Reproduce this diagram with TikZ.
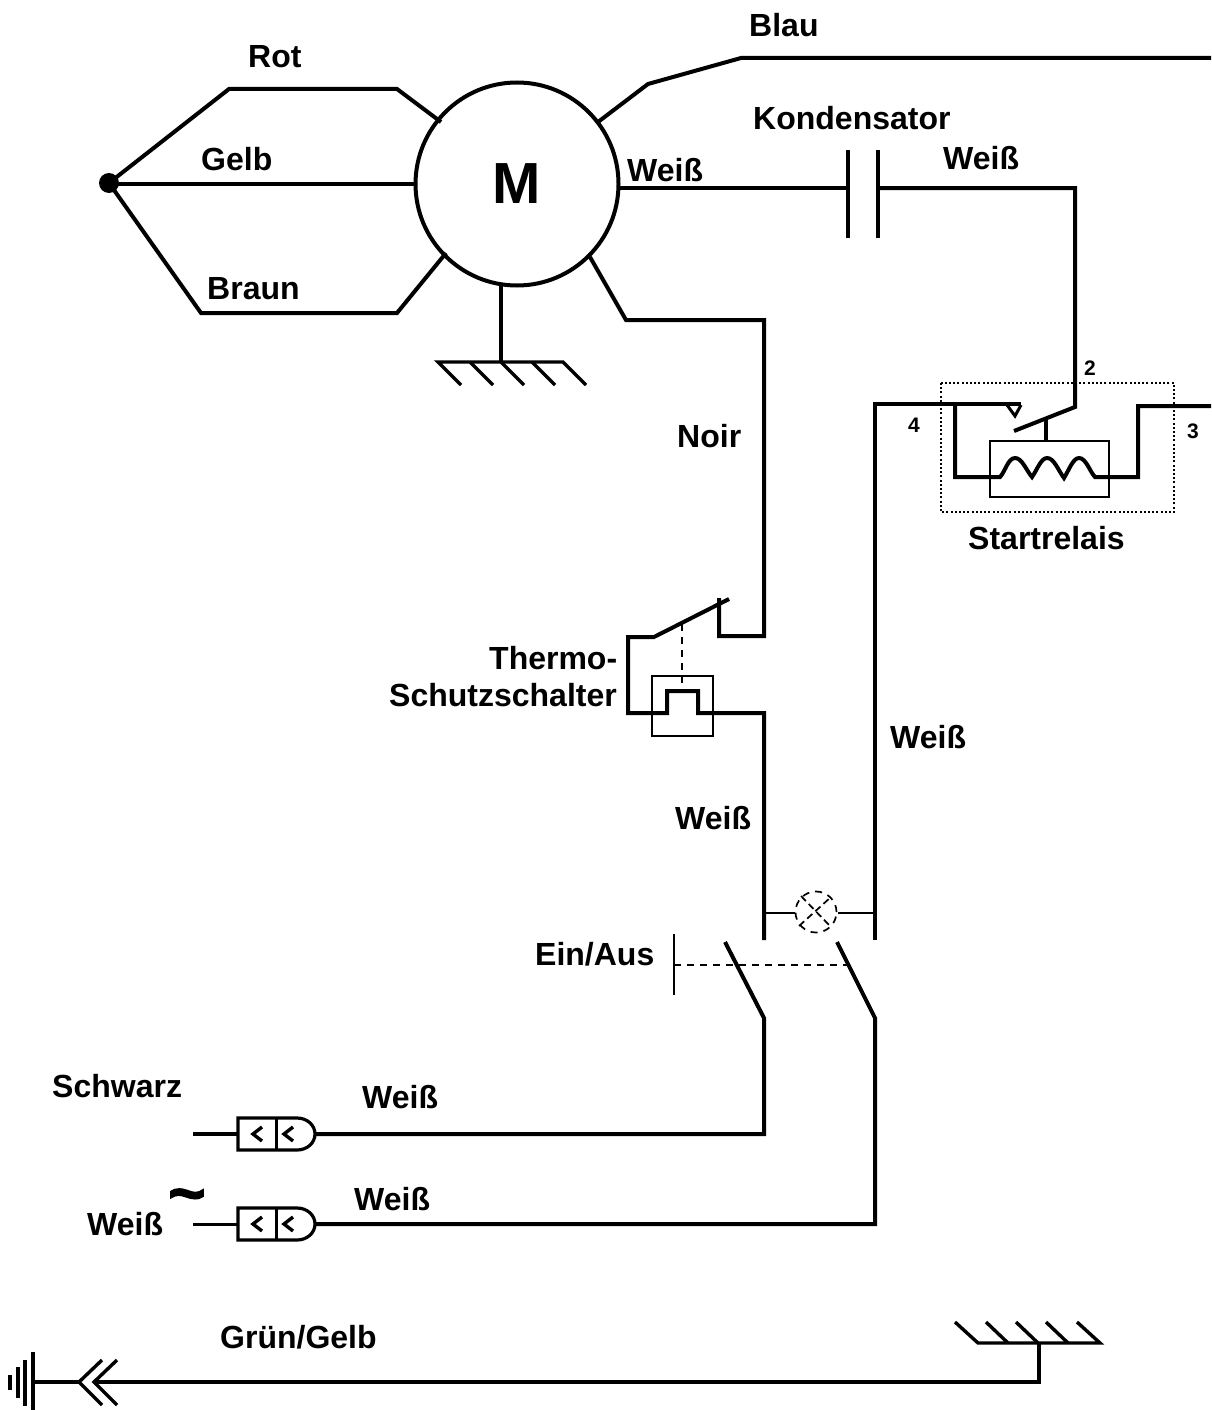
\documentclass[tikz,border=0pt]{standalone}
\usepackage{fontspec}
\setmainfont{Liberation Sans}
\begin{document}
\begin{tikzpicture}[x=1pt,y=-1pt,line join=miter,
  wire/.style={line width=4pt},
  midwire/.style={line width=3.4pt},
  thin wire/.style={line width=2pt},
  fine/.style={line width=1.5pt},
  finedash/.style={line width=1.7pt,dash pattern=on 7pt off 6pt},
  lab/.style={font=\bfseries\fontsize{32}{34}\selectfont,inner sep=0pt,anchor=base west},
  num/.style={font=\bfseries\fontsize{21}{23}\selectfont,inner sep=0pt,anchor=base west}]
\useasboundingbox (0,0) rectangle (1211,1410);
% motor
\node[circle,draw,line width=4pt,minimum size=203pt,inner sep=0pt,font=\bfseries\fontsize{58}{60}\selectfont] (M) at (517,184) {M};
\node[circle,fill,minimum size=20pt,inner sep=0pt] (J) at (109,183) {};
% coordinates
\coordinate (r1) at (229,89); \coordinate (r2) at (397,89); \coordinate (r3) at (441,122);
\coordinate (g3) at (415,184);
\coordinate (b1) at (201,313); \coordinate (b2) at (397,313); \coordinate (b3) at (446,253);
\coordinate (bl0) at (598,122); \coordinate (bl1) at (648,84); \coordinate (bl2) at (741,58); \coordinate (bl3) at (1211,58);
\coordinate (w0) at (620,188); \coordinate (capL) at (848,188); \coordinate (capR) at (878,188);
\coordinate (w1) at (1075,188); \coordinate (relT) at (1075,407); \coordinate (relB) at (1014,431);
\coordinate (n0) at (590,257); \coordinate (n1) at (626,320); \coordinate (n2) at (764,320); \coordinate (n3) at (764,636); \coordinate (n4) at (719,636); \coordinate (n5) at (719,598);
\coordinate (gnd) at (501,285); \coordinate (gndm) at (501,322); \coordinate (gnd1) at (501,362);
\draw[wire] (J.center) -- (r1) -- (r2) -- (r3);
\draw[wire] (J.center) -- (109,184) -- (g3);
\draw[wire] (J.center) -- (b1) -- (b2) -- (b3);
\draw[wire] (bl0) -- (bl1) -- (bl2) -- (bl3);
\draw[wire] (w0) -- (capL);
\draw[wire] (848,150) -- (capL) -- (848,238);
\draw[wire] (878,150) -- (capR) -- (878,238);
\draw[wire] (capR) -- (w1) -- (relT) -- (relB);
\draw[wire] (n0) -- (n1) -- (n2) -- (n3) -- (n4) -- (n5);
\draw[wire] (gnd) -- (gndm);
\draw[midwire] (gndm) -- (gnd1);
\draw[midwire] (461,385) -- (438,362) -- (563,362) -- (586,385);
\foreach \x in {470,501,532} \draw[midwire] (\x,362) -- ++(23,23);
% relay
\draw[line width=1.6pt,dash pattern=on 2pt off 2.2pt] (941,383) rectangle (1174,512);
\draw[fine] (990,441) rectangle (1109,497);
\draw[wire] (875,940) -- (875,404) -- (1021,404);
\draw[line width=3pt] (1007,405) -- (1015,416) -- (1021,405);
\draw[wire] (955,404) -- (955,477) -- (1000,477)
  .. controls (1005,472) and (1008,458) .. (1015,458) .. controls (1022,458) and (1026,470) .. (1032,477)
  .. controls (1037,470) and (1041,458) .. (1047,458) .. controls (1054,458) and (1058,470) .. (1064,478)
  .. controls (1069,470) and (1073,458) .. (1079,458) .. controls (1086,458) and (1090,472) .. (1095,477)
  -- (1138,477) -- (1138,406) -- (1211,406);
\draw[midwire] (1046,420) -- (1046,441);
% thermal
\draw[fine] (652,676) rectangle (713,736);
\draw[wire] (729,599) -- (654,637) -- (628,637) -- (628,713) -- (667,713) -- (667,691) -- (698,691) -- (698,713) -- (764,713) -- (764,940);
\draw[finedash] (682,624) -- (682,690);
% lamp
\node[circle,draw,finedash,minimum size=41pt,inner sep=0pt] (lamp) at (816,912) {};
\coordinate (lampL) at (795,913); \coordinate (lampR) at (838,913);
\draw[thin wire] (764,913) -- (lampL);
\draw[thin wire] (lampR) -- (875,913);
\draw[finedash,dash pattern=on 7pt off 4pt] (801,896) -- (831,927);
\draw[finedash,dash pattern=on 7pt off 4pt] (799,926) -- (831,897);
% switches
\draw[wire] (725,942) -- (764,1018) -- (764,1134) -- (315,1134);
\draw[wire] (837,942) -- (875,1018) -- (875,1224) -- (315,1224);
\draw[thin wire] (674,934) -- (674,995);
\draw[finedash] (674,965) -- (847,965);
% plugs
\foreach \y/\w in {1134/4pt,1224/3pt}{
  \draw[line width=\w] (193,\y) -- (238,\y);
  \draw[line width=3.2pt] (238,\y-16) -- (297,\y-16) .. controls (307,\y-16) and (315,\y-9) .. (315,\y) .. controls (315,\y+9) and (307,\y+16) .. (297,\y+16) -- (238,\y+16) -- cycle;
  \draw[line width=3pt] (276,\y-16) -- (276,\y+16);
  \draw[midwire] (262,\y-7) -- (253,\y) -- (262,\y+7);
  \draw[midwire] (293,\y-7) -- (284,\y) -- (293,\y+7);
}
% bottom earth
\coordinate (e0) at (1039,1343); \coordinate (e1) at (1039,1382);
\draw[midwire] (955,1322) -- (978,1343) -- (1100,1343) -- (1077,1322);
\foreach \x in {1008,1038,1068} \draw[midwire] (\x,1343) -- ++(-22,-21);
\draw[wire] (e0) -- (e1) -- (94,1382);
\draw[midwire] (117,1360) -- (94,1382) -- (117,1405);
\draw[midwire] (102,1360) -- (79,1382) -- (102,1405);
\draw[wire] (79,1382) -- (33,1382);
\draw[wire] (33,1352) -- (33,1410);
\draw[wire] (25,1360) -- (25,1406);
\draw[wire] (18,1367) -- (18,1398);
\draw[wire] (10,1375) -- (10,1390);
% labels
\node[lab] (tRot) at (248,68) {Rot};
\node[lab] (tBlau) at (749,37) {Blau};
\node[lab] (tKond) at (753,129) {Kondensator};
\node[lab] (tW1) at (627,181) {Weiß};
\node[lab] (tW2) at (943,169) {Weiß};
\node[lab] (tGelb) at (201,170) {Gelb};
\node[lab] (tBraun) at (207,299) {Braun};
\node[lab] (tNoir) at (677,447) {Noir};
\node[lab] (tStart) at (968,549) {Startrelais};
\node[lab] (tTh) at (489,669) {Thermo-};
\node[lab] (tSch) at (389,706) {Schutzschalter};
\node[lab] (tW3) at (890,748) {Weiß};
\node[lab] (tW4) at (675,829) {Weiß};
\node[lab] (tEin) at (535,965) {Ein/Aus};
\node[lab] (tSchw) at (52,1097) {Schwarz};
\node[lab] (tW5) at (362,1108) {Weiß};
\node[lab] (tW6) at (354,1210) {Weiß};
\node[lab] (tW7) at (87,1235) {Weiß};
\node[lab,font=\bfseries\fontsize{64}{66}\selectfont\addfontfeature{FakeBold=2}] (tTilde) at (168,1215) {\char`\~};
\node[lab] (tGG) at (220,1348) {Grün/Gelb};
\node[num] (n2t) at (1084,375) {2};
\node[num] (n4t) at (908,432) {4};
\node[num] (n3t) at (1187,438) {3};
\end{tikzpicture}
\end{document}
